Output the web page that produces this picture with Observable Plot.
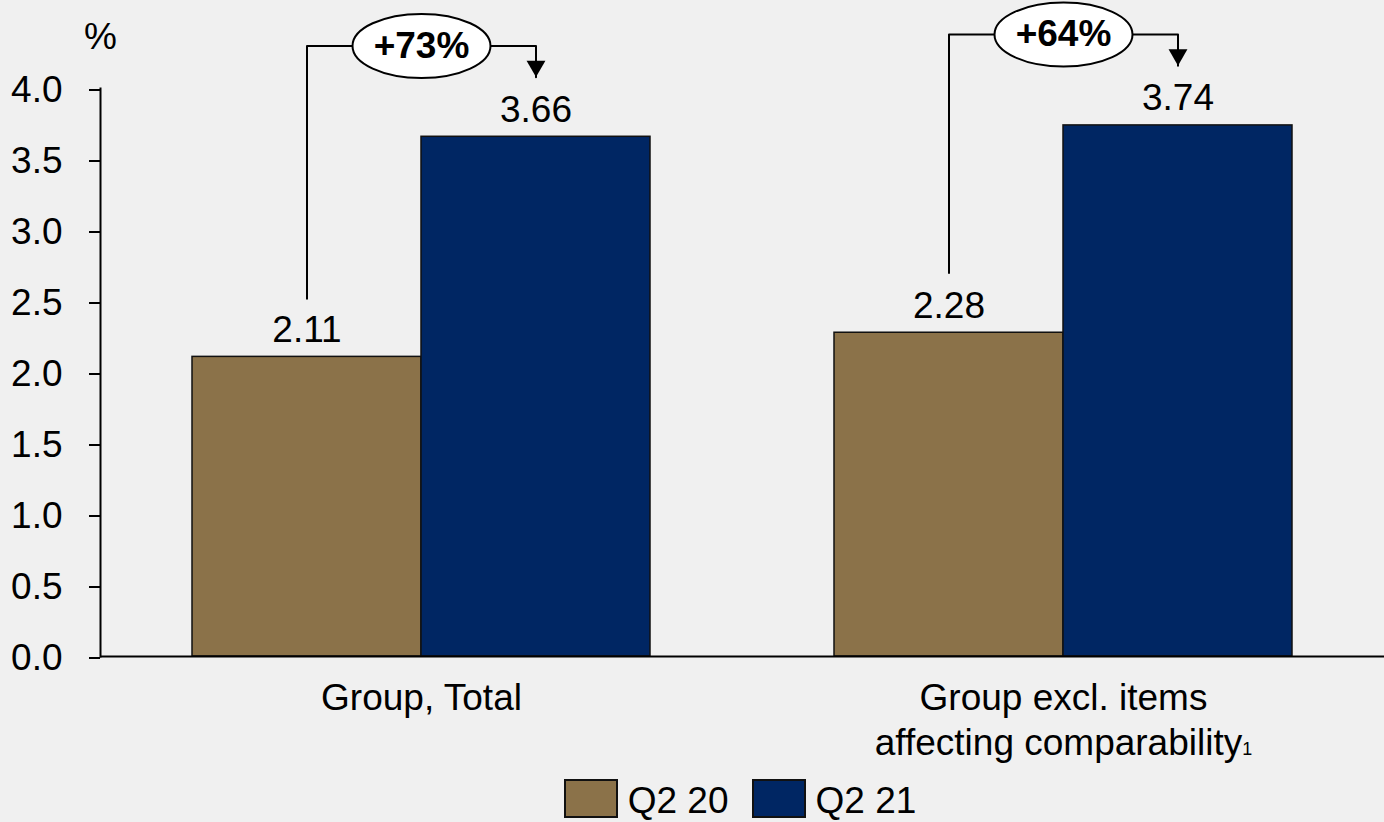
<!DOCTYPE html>
<html>
<head>
<meta charset="utf-8">
<script src="https://cdn.jsdelivr.net/npm/d3@7"></script>
<script src="https://cdn.jsdelivr.net/npm/@observablehq/plot@0.6"></script>
<style>
  html, body { margin: 0; padding: 0; background: #f0f0f0; overflow: hidden; }
  #chart { width: 1384px; }
  #chart svg { overflow: visible; }
  .legend { display: flex; justify-content: center; align-items: center; height: 56px; width: 1384px;
            padding-left: 96px; box-sizing: border-box;
            font-family: "Liberation Sans", Arial, sans-serif; font-size: 37px; color: #000; }
  .item { display: flex; align-items: center; margin: 0 11.5px; line-height: 1; }
  .sw { width: 54px; height: 39px; border: 2px solid #111; box-sizing: border-box; margin-right: 10px; }
  .lbl { padding-top: 4px; }
</style>
</head>
<body>
<div id="chart"></div>
<div class="legend" id="legend"></div>
<script>
// ---- data ----
const categories = ["Group, Total", "Group excl. items\naffecting comparability"];
const series = ["Q2 20", "Q2 21"];
const valuesQ220 = [2.11, 2.28];
const valuesQ221 = [3.66, 3.74];
const changeLabels = ["+73%", "+64%"];
const bracketLow = [2.52, 2.70];   // bottom of left bracket leg
const bracketTop = [4.30, 4.38];   // height of bracket / ellipse centre
const arrowTip = [4.08, 4.16];     // arrow tip above Q2 21 bar
const yTicks = [0, 0.5, 1.0, 1.5, 2.0, 2.5, 3.0, 3.5, 4.0];
const seriesColors = ["#8B7249", "#002663"];
const footnote = "1";

// ---- derived tables ----
const bars = categories.flatMap((c, i) => [
  {cat: c, series: series[0], value: valuesQ220[i]},
  {cat: c, series: series[1], value: valuesQ221[i]}
]);
const bracketPts = categories.flatMap((c, i) => [
  {cat: c, series: series[0], y: bracketLow[i]},
  {cat: c, series: series[0], y: bracketTop[i]},
  {cat: c, series: series[1], y: bracketTop[i]},
  {cat: c, series: series[1], y: arrowTip[i]}
]);
const ann = categories.map((c, i) => ({cat: c, top: bracketTop[i], tip: arrowTip[i], label: changeLabels[i], series: series[1]}));

const font = "'Liberation Sans', Arial, sans-serif";
const fs = 37;

// ellipse symbol for the change badges
const ellipse = {
  draw(context, size) {
    const rx = Math.sqrt(size / Math.PI), ry = rx * 0.464, k = 0.5523;
    context.moveTo(rx, 0);
    context.bezierCurveTo(rx, ry * k, rx * k, ry, 0, ry);
    context.bezierCurveTo(-rx * k, ry, -rx, ry * k, -rx, 0);
    context.bezierCurveTo(-rx, -ry * k, -rx * k, -ry, 0, -ry);
    context.bezierCurveTo(rx * k, -ry, rx, -ry * k, rx, 0);
    context.closePath();
  }
};

const chart = Plot.plot({
  width: 1384,
  height: 770,
  marginTop: 88,
  marginBottom: 114,
  marginLeft: 100,
  marginRight: 0,
  style: {background: "#f0f0f0", fontFamily: font, fontSize: fs + "px", color: "#000"},
  fx: {domain: categories, padding: 0, label: null},
  x: {domain: series, paddingInner: 0, paddingOuter: 0.399, axis: null},
  y: {domain: [0, 4], label: null},
  color: {domain: series, range: seriesColors},
  marks: [
    Plot.barY(bars, {fx: "cat", x: "series", y: "value", fill: "series", stroke: "#111", strokeWidth: 1.5}),
    Plot.text(bars, {fx: "cat", x: "series", y: "value", text: d => d.value.toFixed(2),
      lineAnchor: "bottom", dy: -15, fontSize: fs, fontFamily: font, fill: "#000"}),
    Plot.ruleY([0], {stroke: "#000", strokeWidth: 2}),
    Plot.frame({anchor: "left", facetAnchor: "left", stroke: "#000", strokeWidth: 2}),
    Plot.axisY({ticks: yTicks, tickFormat: d => d.toFixed(1), tickSize: 11, tickPadding: 27,
      fontSize: fs, fontFamily: font, stroke: "#000", strokeWidth: 2, dy: 1.5, label: null}),
    Plot.axisFx({anchor: "bottom", tickSize: 0, tickPadding: 21, fontSize: fs, fontFamily: font,
      lineHeight: 1.22, label: null}),
    Plot.text([{cat: categories[0]}], {fx: "cat", text: () => "%", frameAnchor: "top-left",
      textAnchor: "middle", lineAnchor: "bottom", dy: -40, fontSize: fs, fontFamily: font, fill: "#000"}),
    Plot.line(bracketPts, {fx: "cat", x: "series", y: "y", z: "cat", stroke: "#000", strokeWidth: 2}),
    Plot.dot(ann, {fx: "cat", x: "series", y: "tip", symbol: "triangle", r: 7, rotate: 180,
      fill: "#000", dy: -11}),
    Plot.dot(ann, {fx: "cat", y: "top", symbol: ellipse, r: 69, fill: "#fff", stroke: "#000", strokeWidth: 2}),
    Plot.text(ann, {fx: "cat", y: "top", text: "label", fontWeight: "bold", fontSize: fs,
      fontFamily: font, fill: "#000"})
  ]
});

// footnote marker after "affecting comparability"
d3.select(chart).selectAll("tspan")
  .filter(function() { return this.textContent === "affecting comparability"; })
  .append("tspan").attr("font-size", 18).text(footnote);

document.getElementById("chart").appendChild(chart);

// legend
const legend = document.getElementById("legend");
series.forEach((s, i) => {
  const item = document.createElement("div");
  item.className = "item";
  const sw = document.createElement("div");
  sw.className = "sw";
  sw.style.background = seriesColors[i];
  const lbl = document.createElement("span");
  lbl.className = "lbl";
  lbl.textContent = s;
  item.appendChild(sw);
  item.appendChild(lbl);
  legend.appendChild(item);
});
</script>
</body>
</html>
